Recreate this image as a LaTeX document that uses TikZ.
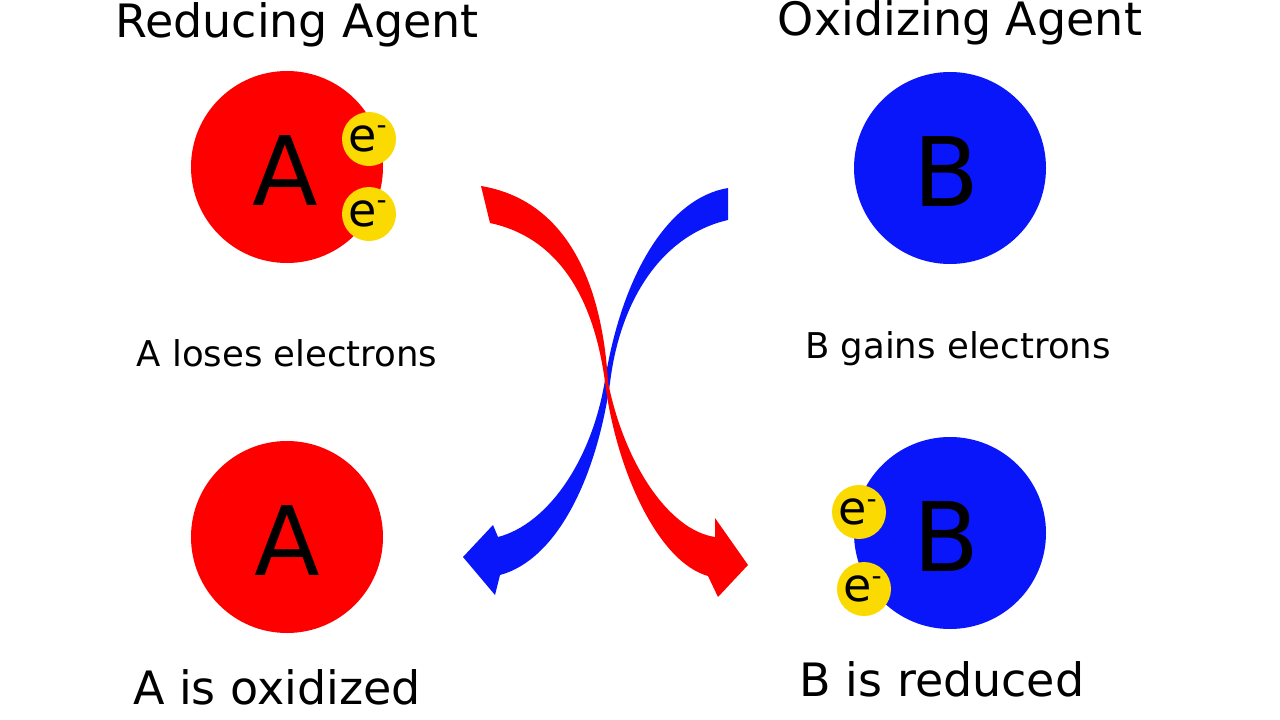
\documentclass[tikz,border=0pt]{standalone}
\usepackage{fontspec}
\setmainfont{DejaVu Sans}
\definecolor{redA}{RGB}{255,0,0}
\definecolor{blueB}{RGB}{10,22,250}
\definecolor{elec}{RGB}{250,218,0}
\begin{document}
\begin{tikzpicture}[x=1pt,y=-1pt,
  atom/.style={circle,inner sep=0pt,minimum size=192pt},
  bigletter/.style={font=\fontsize{96}{96}\selectfont,inner sep=0pt},
  electron/.style={circle,fill=elec,inner sep=0pt,minimum size=54pt,font=\fontsize{46}{46}\selectfont},
  title/.style={font=\fontsize{46}{46}\selectfont,inner sep=0pt,anchor=base},
  caption/.style={font=\fontsize{35.5}{35.5}\selectfont,inner sep=0pt,anchor=base}
]
\useasboundingbox[fill=white] (0,0) rectangle (1280,720);
\newcommand{\elec}{\hspace{-0.06em}e\raisebox{0.36em}{\fontsize{28}{28}\selectfont -}}

% atoms
\node[atom,fill=redA] (A1) at (287,167) {};
\node[bigletter] (A1t) at (285,171) {A};
\node[electron] (e1) at (369,139) {\elec};
\node[electron] (e2) at (369,214) {\elec};

\node[atom,fill=blueB] (B1) at (950,168) {};
\node[bigletter] (B1t) at (946,172) {B};

\node[atom,fill=redA] (A2) at (287,537) {};
\node[bigletter] (A2t) at (287,541) {A};

\node[atom,fill=blueB] (B2) at (950,533) {};
\node[bigletter] (B2t) at (946,537) {B};
\node[electron] (e3) at (859,512) {\elec};
\node[electron] (e4) at (864,589) {\elec};

% texts
\node[title] (t1) at (297,37) {Reducing Agent};
\node[title] (t2) at (960,35) {Oxidizing Agent};
\node[caption] (c1) at (287,366) {A loses electrons};
\node[caption] (c2) at (958,358) {B gains electrons};
\node[title] (t3) at (277,704) {A is oxidized};
\node[title] (t4) at (942,696) {B is reduced};

% blue arrow (B -> A)
\fill[blueB] (728,188) -- (728,220)
  .. controls (662,235) and (620,300) .. (610,383)
  .. controls (596,480) and (556,560) .. (500,575)
  -- (495,595) -- (463,557) -- (493,525) -- (498,537)
  .. controls (548,524) and (592,460) .. (605,380)
  .. controls (622,275) and (668,198) .. (728,188) -- cycle;

% red arrow (A -> B)
\fill[redA] (481,186)
  .. controls (565,200) and (602,280) .. (608,382)
  .. controls (624,462) and (668,530) .. (715,537)
  -- (715,518) -- (748,565) -- (718,597) -- (708,576)
  .. controls (658,562) and (616,470) .. (605,382)
  .. controls (594,300) and (560,238) .. (490,223) -- cycle;
\end{tikzpicture}
\end{document}
